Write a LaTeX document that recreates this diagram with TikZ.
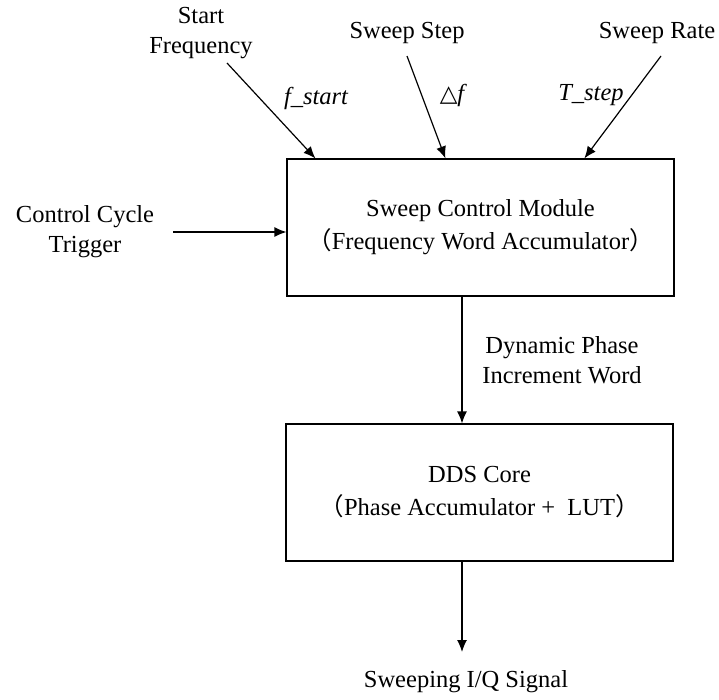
\documentclass[tikz,border=0pt]{standalone}
\usepackage{fontspec}
\setmainfont{Liberation Serif}
\newfontfamily\cjk{Noto Sans CJK SC}
\newfontfamily\symfont{DejaVu Sans}
\usetikzlibrary{arrows.meta,calc}

\tikzset{
  blockbox/.style={draw, line width=1.2pt, minimum width=387pt, minimum height=137pt,
    inner sep=0pt, align=center, font=\fontsize{24.5}{33}\selectfont},
  sigline/.style={line width=1.2pt, -{Latex[length=12pt,width=10pt]}},
  lbl/.style={align=center, inner sep=0pt},
  ital/.style={inner sep=0pt, font=\fontsize{24.5}{30}\selectfont\itshape}
}

\begin{document}
\begin{tikzpicture}[x=1pt, y=-1pt, font=\fontsize{24.5}{30}\selectfont]
  \useasboundingbox (0,0) rectangle (719,699);

  % Blocks
  \node[blockbox] (scm) at (480.5,227.5)
    {Sweep Control Module\\{\cjk （}Frequency Word Accumulator{\cjk ）}};
  \node[blockbox] (dds) at (479.5,492.5)
    {DDS Core\\{\cjk （}Phase Accumulator +\enspace LUT{\cjk ）}};

  % Input labels
  \node[lbl] (fstart) at (201,33) {Start\\Frequency};
  \node[lbl] (sstep)  at (407,33) {Sweep Step};
  \node[lbl] (srate)  at (657,33) {Sweep Rate};
  \node[lbl] (cct)    at (85,232) {Control Cycle\\Trigger};
  \node[lbl] (dpiw)   at (562,360) {Dynamic Phase\\Increment Word};
  \node[lbl] (sig)    at (466,682) {Sweeping I/Q Signal};

  % Start and end points of the connectors
  \coordinate (fs0) at (227,63);
  \coordinate (ss0) at (407,56);
  \coordinate (sr0) at (661,56);
  \coordinate (cc0) at (173,232);
  \coordinate (fs1) at ($(scm.north west)+(29,0)$);
  \coordinate (ss1) at ($(scm.north west)+(159,0)$);
  \coordinate (sr1) at ($(scm.north west)+(298,0)$);
  \coordinate (mid) at ($(scm.south)+(-18.5,0)$);
  \coordinate (out) at (462,652);

  % Connectors
  \draw[sigline] (fs0) -- (fs1);
  \draw[sigline] (ss0) -- (ss1);
  \draw[sigline] (sr0) -- (sr1);
  \draw[sigline] (cc0) -- (cc0 -| scm.west);
  \draw[sigline] (mid) -- (mid |- dds.north);
  \draw[sigline] (mid |- dds.south) -- (out);

  % Symbols on the inputs
  \node[ital] (lfs) at (316,98) {f\_start};
  \node[ital] (lss) at (452,95) {{\symfont\upshape\fontsize{23}{23}\selectfont △}f};
  \node[ital] (lsr) at (591,95) {T\_step};
\end{tikzpicture}
\end{document}
